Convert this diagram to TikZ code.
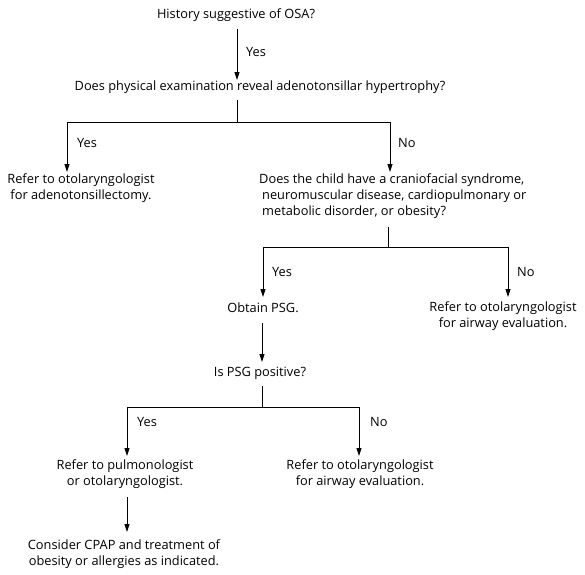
\documentclass[tikz,border=0pt]{standalone}
\usepackage{fontspec}
\setmainfont{Open Sans}
\usetikzlibrary{arrows.meta,calc}
\begin{document}
\begin{tikzpicture}[x=1pt,y=-1pt,
  txt/.style={inner sep=0pt, font=\fontsize{12.8}{16}\selectfont, align=center},
  lbl/.style={inner sep=0pt, anchor=west, font=\fontsize{12.8}{16}\selectfont},
  conn/.style={line width=0.8pt},
  arr/.style={conn, -{Triangle[length=8pt,width=5pt]}}]
\useasboundingbox[fill=white] (0,0) rectangle (585,574);
% text nodes
\node[txt] (h1) at (236,15) {History suggestive of OSA?};
\node[txt] (q1) at (260,87) {Does physical examination reveal adenotonsillar hypertrophy?};
\node[txt] (r1) at (81,188.5) {Refer to otolaryngologist\\for adenotonsillectomy.};
\node[txt, anchor=west, align=left] (q2) at (259,196) {Does the child have a craniofacial syndrome,\\\hspace*{3pt}neuromuscular disease, cardiopulmonary or\\\hspace*{3pt}metabolic disorder, or obesity?};
\node[txt] (ps) at (263,308) {Obtain PSG.};
\node[txt] (r2) at (503,316.5) {Refer to otolaryngologist\\for airway evaluation.};
\node[txt] (ip) at (260,373) {Is PSG positive?};
\node[txt] (r3) at (125,474.5) {Refer to pulmonologist\\or otolaryngologist.};
\node[txt] (r4) at (360,474.5) {Refer to otolaryngologist\\for airway evaluation.};
\node[txt] (r5) at (124,554) {Consider CPAP and treatment of\\obesity or allergies as indicated.};
% labels
\node[lbl] (y1) at (246,52) {Yes};
\node[lbl] (y2) at (77,143) {Yes};
\node[lbl] (n2) at (398,143) {No};
\node[lbl] (y3) at (272,272) {Yes};
\node[lbl] (n3) at (517,272) {No};
\node[lbl] (y4) at (137,422) {Yes};
\node[lbl] (n4) at (370,422) {No};
% helper coordinates
\coordinate (x0) at (237,0);
\coordinate (xl) at (67,0);
\coordinate (xr) at (390,0);
\coordinate (x2) at (388,0);
\coordinate (j1) at (237,122);
\coordinate (j2) at (388,247);
\coordinate (j3) at (262,407);
% connectors
\draw[arr] ($(h1.center -| x0)+(0,14)$) -- ($(q1.center -| x0)+(0,-7)$);
\draw[conn] ($(q1.center -| x0)+(0,13)$) -- (j1);
\draw[arr] (j1) -| ($(r1.center -| xl)+(0,-16.5)$);
\draw[arr] (j1) -| ($(q2.west -| xr)+(0,-24)$);
\draw[conn] ($(q2.west -| x2)+(0,31)$) -- (j2);
\draw[arr] (j2) -| ($(ps.center)+(0,-11)$);
\draw[arr] (j2) -| ($(r2.center)+(5,-19.5)$);
\draw[arr] ($(ps.center)+(-1,15)$) -- ($(ip.center -| ps.center)+(-1,-11)$);
\draw[conn] ($(ip.center)+(2,13)$) -- (j3);
\draw[arr] (j3) -| ($(r3.center)+(2,-18.5)$);
\draw[arr] (j3) -| ($(r4.center)+(-1,-18.5)$);
\draw[arr] ($(r3.center)+(2,22.5)$) -- ($(r5.center -| r3.center)+(2,-22)$);
\end{tikzpicture}
\end{document}
